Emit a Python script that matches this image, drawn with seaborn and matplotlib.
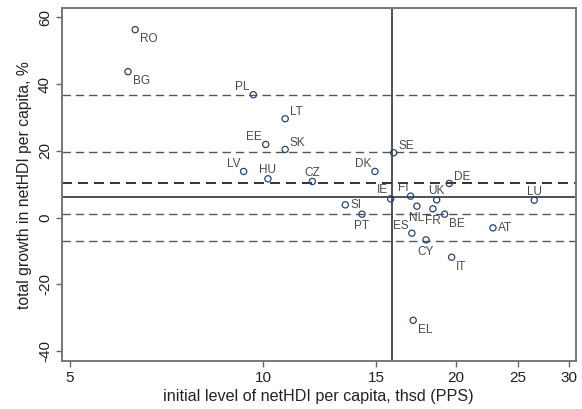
import numpy as np
import pandas as pd
import matplotlib
matplotlib.use("Agg")
import matplotlib.pyplot as plt
import seaborn as sns

# values
countries = ["RO", "BG", "PL", "LT", "EE", "SK", "LV", "HU", "CZ", "DK", "SE", "IE", "FI",
             "SI", "PT", "UK", "NL", "FR", "ES", "CY", "DE", "LU", "BE", "AT", "IT", "EL"]
init_level = [6.32, 6.16, 9.66, 10.83, 10.10, 10.83, 9.33, 10.18, 11.94, 14.95, 15.99, 15.82, 16.99,
              13.44, 14.27, 18.66, 17.38, 18.41, 17.07, 17.96, 19.52, 26.49, 19.20, 22.84, 19.69, 17.15]
growth = [56.3, 43.7, 36.8, 29.6, 21.9, 20.4, 13.8, 11.6, 10.8, 13.8, 19.4, 5.6, 6.4,
          3.8, 1.0, 5.3, 3.4, 2.6, -4.7, -6.7, 10.2, 5.2, 1.0, -3.1, -11.9, -30.8]
# label position (clock) for each country, like Stata mlabvposition
lab_clock = [4, 4, 10, 2, 10, 2, 10, 12, 12, 10, 2, 11, 11,
             3, 6, 12, 6, 6, 10, 6, 2, 12, 4, 3, 4, 4]

vline_x = 15.9
hline_solid = 6.05
hlines_dash = [36.7, 19.5, 1.05, -6.9]
hline_dark = 10.25

xticks = [5, 10, 15, 20, 25, 30]
yticks = [-40, -20, 0, 20, 40, 60]

df = pd.DataFrame({"country": countries, "x": init_level, "y": growth, "pos": lab_clock})

sns.set_style("white")
plt.rcParams["font.family"] = ["Liberation Sans", "DejaVu Sans"]

fig = plt.figure(figsize=(5.82, 4.09), dpi=100)
ax = fig.add_axes([0.106, 0.1174, 0.883, 0.8623])

navy = "#26456e"
grey = "#555555"

for h in hlines_dash:
    ax.axhline(h, color=grey, lw=1.0, linestyle=(0, (6, 3.6)), zorder=1)
ax.axhline(hline_dark, color="#111111", lw=1.2, linestyle=(0, (6, 3.6)), zorder=1)
ax.axhline(hline_solid, color="#333333", lw=1.2, zorder=1)
ax.axvline(vline_x, color="#333333", lw=1.2, zorder=1)

sns.scatterplot(data=df, x="x", y="y", ax=ax, marker="o", s=20,
                facecolor="none", edgecolor=navy, linewidth=0.9, zorder=3)

clock = {
    12: (0, 8.5, "center"),
    2: (4.5, 6.5, "left"),
    3: (5, 0, "left"),
    4: (4.5, -9.5, "left"),
    6: (0, -12, "center"),
    10: (-3.5, 7.5, "right"),
    11: (-2.5, 8.5, "right"),
}
for _, r in df.iterrows():
    dx, dy, ha = clock[r["pos"]]
    ax.annotate(r["country"], (r["x"], r["y"]), xytext=(dx, dy), textcoords="offset pixels",
                ha=ha, va="center", fontsize=8.5, color="#4a4a4a")

ax.set_xscale("log")
ax.set_xlim(4.854, 30.73)
ax.set_ylim(-43.0, 62.7)
ax.set_xticks(xticks)
ax.set_xticklabels([str(t) for t in xticks])
ax.xaxis.set_minor_locator(matplotlib.ticker.NullLocator())
ax.set_yticks(yticks)
ax.set_yticklabels([str(t) for t in yticks], rotation=90, va="center")

ax.tick_params(axis="both", which="major", direction="out", length=4, width=1,
               color="#666666", labelsize=11, labelcolor="#222222", pad=3,
               bottom=True, left=True)
for s in ax.spines.values():
    s.set_color("#777777")
    s.set_linewidth(1.4)

ax.set_xlabel("initial level of netHDI per capita, thsd (PPS)", fontsize=11.6, color="#222222", labelpad=3)
ax.set_ylabel("total growth in netHDI per capita, %", fontsize=11.3, color="#222222", labelpad=4)

fig.savefig("out.png", dpi=100)
